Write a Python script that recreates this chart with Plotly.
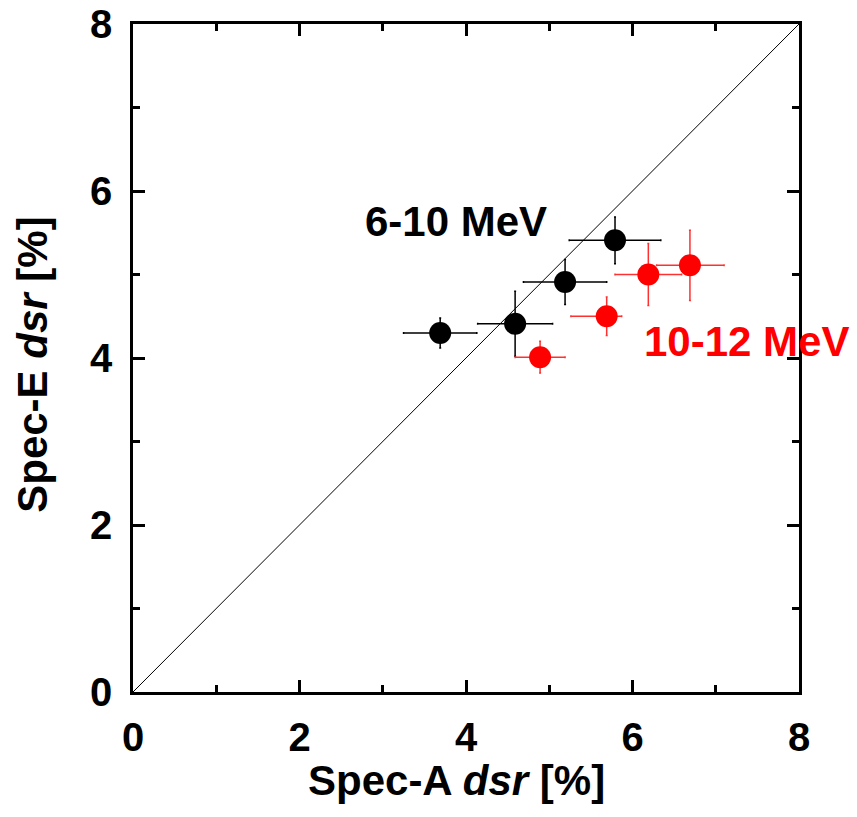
import plotly.graph_objects as go

# 6-10 MeV (black)
blk_x = [3.69, 4.59, 5.19, 5.79]
blk_y = [4.30, 4.41, 4.91, 5.41]
blk_xerr = [0.44, 0.45, 0.50, 0.55]
blk_yerr = [0.18, 0.39, 0.27, 0.28]

# 10-12 MeV (red)
red_x = [4.89, 5.69, 6.19, 6.69]
red_y = [4.01, 4.50, 5.00, 5.11]
red_xerr_plus = [0.30, 0.18, 0.40, 0.41]
red_xerr_minus = [0.30, 0.43, 0.40, 0.40]
red_yerr = [0.19, 0.23, 0.37, 0.42]

diag = [0, 8]
ticks = [0, 2, 4, 6, 8]

FONT = "Liberation Sans, Arial, sans-serif"

fig = go.Figure()
fig.add_trace(go.Scatter(x=diag, y=diag, mode="lines",
                         line=dict(color="black", width=1), showlegend=False))
fig.add_trace(go.Scatter(
    x=blk_x, y=blk_y, mode="markers",
    marker=dict(color="black", size=22),
    error_x=dict(type="data", array=blk_xerr, color="black", thickness=1.5, width=1),
    error_y=dict(type="data", array=blk_yerr, color="black", thickness=1.5, width=1),
    showlegend=False))
fig.add_trace(go.Scatter(
    x=red_x, y=red_y, mode="markers",
    marker=dict(color="#ff0000", size=22),
    error_x=dict(type="data", array=red_xerr_plus, arrayminus=red_xerr_minus,
                 color="#ff3030", thickness=1.5, width=1),
    error_y=dict(type="data", array=red_yerr, color="#ff3030", thickness=1.5, width=1),
    showlegend=False))

fig.add_annotation(x=3.88, y=5.63, text="6-10 MeV", showarrow=False,
                   font=dict(family=FONT, size=42, color="black", weight="bold"))
fig.add_annotation(x=7.37, y=4.20, text="10-12 MeV", showarrow=False,
                   font=dict(family=FONT, size=42, color="#ff0000", weight="bold"))

fig.add_annotation(xref="paper", yref="paper", x=0.485, y=-0.095,
                   text="<b>Spec-A </b><b><i>dsr</i></b><b> [%]</b>", showarrow=False,
                   xanchor="center", yanchor="top",
                   font=dict(family=FONT, size=42, color="black", weight="bold"))
fig.add_annotation(xref="paper", yref="paper", x=-0.15, y=0.49,
                   text="<b>Spec-E </b><b><i>dsr</i></b><b> [%]</b>", showarrow=False,
                   textangle=-90, xanchor="center", yanchor="middle",
                   font=dict(family=FONT, size=42, color="black", weight="bold"))

axis_common = dict(
    range=[0, 8], tickvals=ticks, ticktext=[str(t) for t in ticks],
    showgrid=False, zeroline=False, showline=True, linecolor="black", linewidth=2.5,
    mirror="allticks", ticks="inside", ticklen=12, tickwidth=2.5, tickcolor="black",
    minor=dict(ticks="inside", dtick=1, tick0=0, ticklen=7, tickwidth=2.5,
               tickcolor="black", showgrid=False),
    tickfont=dict(family=FONT, size=40, color="black", weight="bold"),
    automargin=False,
)

fig.update_layout(
    width=857, height=817,
    margin=dict(l=133, r=58, t=24, b=125, autoexpand=False),
    plot_bgcolor="white", paper_bgcolor="white",
    xaxis=dict(**axis_common, ticklabelstandoff=8),
    yaxis=dict(**axis_common, ticklabelstandoff=10),
    font=dict(family=FONT, color="black"),
)

fig.write_html("out.html")
